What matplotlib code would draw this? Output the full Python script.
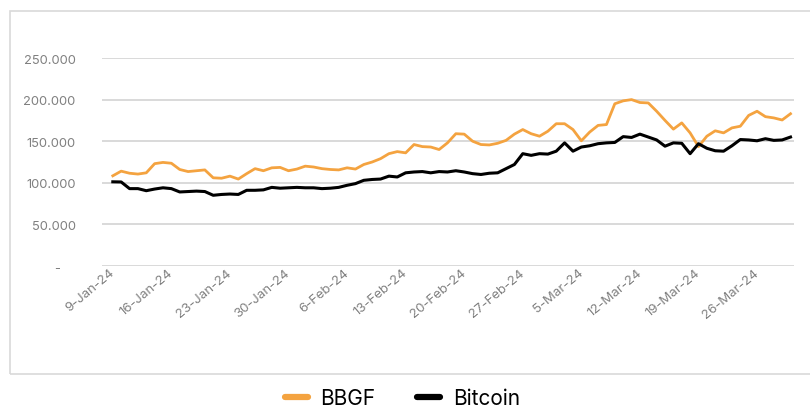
import numpy as np
import pandas as pd
import matplotlib
matplotlib.use("Agg")
import matplotlib.pyplot as plt
import matplotlib.transforms as mtransforms
from matplotlib.patches import Rectangle
from matplotlib.ticker import FuncFormatter

plt.rcParams['font.family'] = ['Inter', 'DejaVu Sans']

# daily values, 9-Jan-24 onwards (thousands)
dates = pd.date_range("2024-01-09", periods=82, freq="D")
bbgf = [108.4, 114, 111.5, 110.5, 112, 123, 124.5, 123.5, 116, 113.5,
        114.5, 115.5, 106, 105.5, 108, 104.5, 111, 117, 114.5, 118,
        118.5, 114.5, 116.5, 120, 119, 117, 116, 115.5, 118, 116.5,
        122, 125, 129, 135, 137.5, 136, 146, 143.5, 143, 140,
        148, 159, 158.5, 150, 146, 145.5, 147.5, 151, 158.5, 164,
        159, 156, 162, 171, 171, 164, 150.5, 161, 169, 170,
        195, 198.5, 200, 196.5, 196, 186, 175, 164.5, 172, 160,
        143.5, 156, 162.5, 160, 166, 168, 181, 186, 179.5, 178,
        175.5, 183]
bitcoin = [101.2, 101, 93, 93, 90.5, 92.5, 94, 93, 89, 89.5,
           90, 89.5, 85, 86, 86.5, 86, 91, 91, 91.5, 94.5,
           93.5, 94, 94.5, 94, 94, 93, 93.5, 94.5, 97, 99,
           103, 104, 104.5, 108, 107, 112, 113, 113.5, 112, 113.5,
           113, 114.5, 113, 111, 110, 111.5, 112, 117, 122, 135,
           133, 135, 134.5, 138, 148, 138, 143, 144.5, 147, 148,
           148.5, 155.5, 154.5, 158.5, 155, 151.5, 144, 148, 147.5, 135,
           147, 141.5, 138.5, 138, 144.5, 152, 151.5, 150.5, 153, 151,
           151.5, 155]
bbgf = np.array(bbgf) * 1000
bitcoin = np.array(bitcoin) * 1000

fig = plt.figure(figsize=(8.1, 4.1), dpi=100)
# outer frame
fig.patches.append(Rectangle((10 / 810, 1 - 375 / 410), 1.2, 363 / 410,
                             transform=fig.transFigure, fill=False,
                             edgecolor="#d9d9d9", linewidth=1.2))

ax = fig.add_axes([102 / 810, 1 - 267 / 410, 692 / 810, 208 / 410])
ax.plot(dates, bbgf, color="#f4a340", linewidth=2.0, label="BBGF", zorder=3,
        solid_joinstyle="round")
ax.plot(dates, bitcoin, color="black", linewidth=2.2, label="Bitcoin", zorder=3,
        solid_joinstyle="round")

ax.set_ylim(0, 250000)
ax.set_yticks(np.arange(0, 250001, 50000))
ax.yaxis.set_major_formatter(FuncFormatter(
    lambda v, p: "-    " if v == 0 else f"{int(v):,}".replace(",", ".")))
ax.grid(axis="y", color="#d9d9d9", linewidth=1.4)
ax.set_axisbelow(True)

ax.set_xlim(dates[0] - pd.Timedelta(hours=31), dates[-1] + pd.Timedelta(hours=10))
ticks = pd.date_range("2024-01-09", "2024-03-31", freq="7D")
ax.set_xticks(ticks)
ax.set_xticklabels([f"{d.day}-{d.strftime('%b-%y')}" for d in ticks])
shift = mtransforms.ScaledTranslation(4 / 100, -4 / 100, fig.dpi_scale_trans)
for lab in ax.get_xticklabels():
    lab.set_rotation(40)
    lab.set_ha("right")
    lab.set_va("center")
    lab.set_rotation_mode("anchor")
    lab.set_transform(lab.get_transform() + shift)

ax.tick_params(axis="both", length=0, colors="#808080", labelsize=9.5)
ax.tick_params(axis="y", pad=19, labelsize=9.3)
for s in ax.spines.values():
    s.set_visible(False)

leg = fig.legend(loc="center", bbox_to_anchor=(0.497, 1 - 399 / 410), ncol=2,
                 frameon=False, fontsize=15, handlelength=1.1, columnspacing=2.0,
                 handletextpad=0.6)
for h in leg.get_lines():
    h.set_linewidth(4.5)
    h.set_solid_capstyle("round")

fig.savefig("out.png", dpi=100)
